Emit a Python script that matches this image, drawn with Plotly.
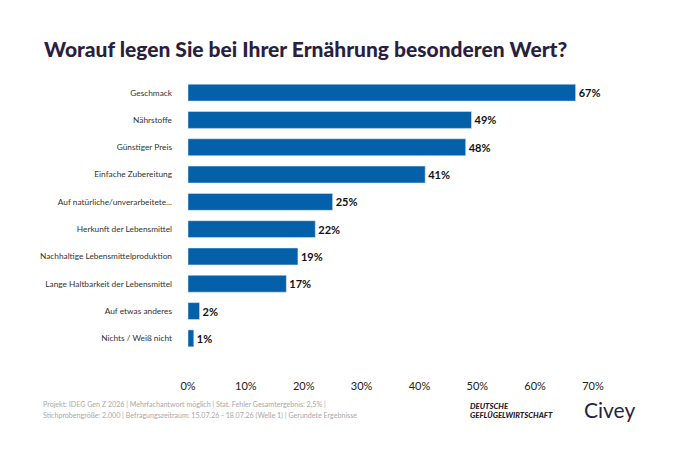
import plotly.graph_objects as go

categories = [
    "Geschmack",
    "Nährstoffe",
    "Günstiger Preis",
    "Einfache Zubereitung",
    "Auf natürliche/unverarbeitete...",
    "Herkunft der Lebensmittel",
    "Nachhaltige Lebensmittelproduktion",
    "Lange Haltbarkeit der Lebensmittel",
    "Auf etwas anderes",
    "Nichts / Weiß nicht",
]
values = [67, 49, 48, 41, 25, 22, 19, 17, 2, 1]
tick_vals = [0, 10, 20, 30, 40, 50, 60, 70]
tick_text = ["0%", "10%", "20%", "30%", "40%", "50%", "60%", "70%"]

title = "Worauf legen Sie bei Ihrer Ernährung besonderen Wert?"
footer_lines = [
    "Projekt: IDEG Gen Z 2026 | Mehrfachantwort möglich | Stat. Fehler Gesamtergebnis: 2,5% |",
    "Stichprobengröße: 2.000 | Befragungszeitraum: 15.07.26 - 18.07.26 (Welle 1) | Gerundete Ergebnisse",
]
logo_lines = ["DEUTSCHE", "GEFLÜGELWIRTSCHAFT"]

# page body has an 8px margin, so everything is laid out 8px up/left
PW, PH = 405, 273  # plot area size in px

fig = go.Figure(go.Bar(
    x=values,
    y=categories,
    orientation="h",
    marker=dict(color="#0560aa"),
    text=[f"<b>{v}%</b>" for v in values],
    textposition="outside",
    textfont=dict(size=11, color="#111111", family="Lato"),
    cliponaxis=False,
    hoverinfo="skip",
))

fig.update_layout(
    width=676, height=450,
    margin=dict(l=180, r=91, t=71, b=106),
    paper_bgcolor="white", plot_bgcolor="white",
    bargap=0.38,
    showlegend=False,
    font=dict(family="Lato", color="#333333"),
    title=dict(text=title, xref="container", yref="container",
               x=36 / 676, xanchor="left", y=1 - 42 / 450, yanchor="middle",
               font=dict(size=21, color="#2a1f3f", family="Lato", weight=900)),
)

fig.update_xaxes(range=[0, 70], tickvals=tick_vals, ticktext=tick_text,
                 showgrid=False, zeroline=False, showline=False,
                 tickfont=dict(size=11, color="#222222"), ticklabelstandoff=26)
fig.update_yaxes(autorange="reversed", showgrid=False, showline=False,
                 tickfont=dict(size=8.3, color="#333333"), ticklabelstandoff=15)

for i, line in enumerate(footer_lines):
    fig.add_annotation(text=line, xref="paper", yref="paper",
                       x=-147 / PW, y=-(52.3 + 10.7 * i) / PH,
                       xanchor="left", yanchor="middle", showarrow=False,
                       font=dict(size=7.1, color="#a8a8a8", family="Lato"))

for i, line in enumerate(logo_lines):
    fig.add_annotation(text=f"<i>{line}</i>", xref="paper", yref="paper",
                       x=280 / PW, y=-(54 + 9 * i) / PH,
                       xanchor="left", yanchor="middle", showarrow=False,
                       font=dict(size=7.8, color="#1f1a2e", family="Lato", weight=900))

fig.add_annotation(text="Civey", xref="paper", yref="paper",
                   x=394 / PW, y=-57 / PH, xanchor="left", yanchor="middle",
                   showarrow=False,
                   font=dict(size=21, color="#2a1f3f", family="Lato"))

fig.write_html("out.html")
